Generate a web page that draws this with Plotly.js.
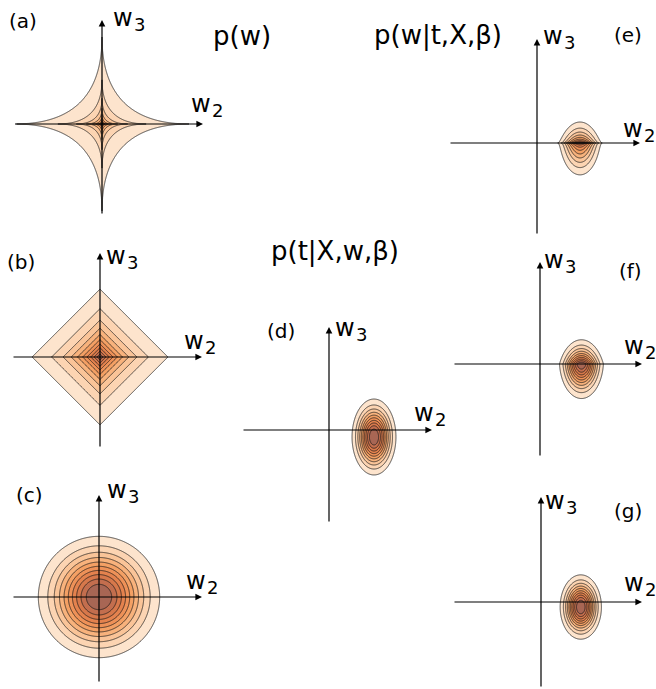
<!DOCTYPE html>
<html>
<head>
<meta charset="utf-8">
<script src="https://cdn.plot.ly/plotly-3.0.1.min.js"></script>
<style>html,body{margin:0;padding:0;background:#fff}</style>
</head>
<body>
<div id="chart" style="width:656px;height:689px"></div>
<script>
// Priors p(w) ∝ exp(-(|w2|/s)^q - (|w3|/s)^q), coordinates in units of 10 px
const priorLetters = ['(a)', '(b)', '(c)'];
const priorExponent = [0.5, 1, 2];
const priorScale = [1.5, 2.82, 3.91];

// Likelihood p(t|X,w,β): axis-aligned Gaussian over (w2, w3)
const likelihoodMean = [4.5, -0.7];
const likelihoodSigma = [1.0, 1.73];

// Posterior panels p(w|t,X,β) = prior × likelihood
const posteriorLetters = ['(e)', '(f)', '(g)'];
const likelihoodLetter = '(d)';

// Contour levels as fractions of each panel's peak
const levelStart = 0.09;
const levelStep = 0.09;
const levelCount = 10;

// Fill colour of each band, lowest (outside) to highest
const bandColors = [
  'rgba(255,255,255,0)',
  'rgb(253,228,205)', 'rgb(252,212,178)', 'rgb(250,196,152)', 'rgb(248,178,124)',
  'rgb(244,160,100)', 'rgb(238,145,88)', 'rgb(228,130,78)', 'rgb(215,120,75)',
  'rgb(195,110,78)', 'rgb(168,102,84)'
];

const titleTexts = ['p(w)', 'p(w|t,X,β)', 'p(t|X,w,β)'];
const axisNames = ['w', '2', '3'];

// ---------------------------------------------------------------------------
const W = 656, H = 689, UNIT = 10;
const FONT = 'DejaVu Sans';

// Panel frames in pixels: origin, horizontal axis extent, vertical axis extent
const frames = {
  '(a)': {o: [102, 124], h: [15, 203], v: [20, 215]},
  '(b)': {o: [100, 357], h: [12, 202], v: [253, 448]},
  '(c)': {o: [99, 597],  h: [12, 202], v: [495, 683]},
  '(d)': {o: [329, 430], h: [242, 432], v: [327, 523]},
  '(e)': {o: [537, 143], h: [449, 640], v: [39, 235]},
  '(f)': {o: [540, 364], h: [453, 642], v: [262, 457]},
  '(g)': {o: [541, 602], h: [453, 642], v: [497, 688]}
};

// Label placements in pixels: [left, baseline] of the "w" for w3 and w2, and the panel letter centre
const labelPos = {
  '(a)': {w3: [112, 27],  w2: [190, 113], tag: [23, 21]},
  '(b)': {w3: [105, 265], w2: [183, 350], tag: [21, 262]},
  '(c)': {w3: [106, 499], w2: [185, 590], tag: [29, 495]},
  '(d)': {w3: [334, 337], w2: [413, 422], tag: [281, 331]},
  '(e)': {w3: [542, 45],  w2: [622, 138], tag: [628, 35]},
  '(f)': {w3: [543, 269], w2: [623, 355], tag: [630, 271]},
  '(g)': {w3: [544, 510], w2: [623, 592], tag: [628, 511]}
};
const titlePos = [[242, 36], [438, 36], [335, 252]];

function logPrior(k, x, y) {
  const s = priorScale[k], q = priorExponent[k];
  return -(Math.pow(Math.abs(x) / s, q) + Math.pow(Math.abs(y) / s, q));
}
function logLikelihood(x, y) {
  const a = (x - likelihoodMean[0]) / likelihoodSigma[0];
  const b = (y - likelihoodMean[1]) / likelihoodSigma[1];
  return -0.5 * (a * a + b * b);
}

function axisRange(f) {
  return {
    x: [(f.h[0] - f.o[0]) / UNIT, (f.h[1] - f.o[0]) / UNIT],
    y: [(f.o[1] - f.v[1]) / UNIT, (f.o[1] - f.v[0]) / UNIT]
  };
}

function gridAxis(lo, hi, step) {
  const out = [];
  for (let k = Math.ceil(lo / step); k <= Math.floor(hi / step); k++) out.push(k * step);
  return out;
}

function densityGrid(f, logDensity) {
  const r = axisRange(f), step = 0.06;
  const xs = gridAxis(r.x[0], r.x[1], step);
  const ys = gridAxis(r.y[0], r.y[1], step);
  const L = ys.map(y => xs.map(x => logDensity(x, y)));
  let m = -Infinity;
  L.forEach(row => row.forEach(v => { if (v > m) m = v; }));
  const z = L.map(row => row.map(v => Math.exp(v - m)));
  return {xs, ys, z};
}

const colorscale = bandColors.map((c, j) => [j / levelCount, c]);

const panels = [];
priorLetters.forEach((id, k) => panels.push({id, fn: (x, y) => logPrior(k, x, y)}));
panels.push({id: likelihoodLetter, fn: logLikelihood});
posteriorLetters.forEach((id, k) => panels.push({id, fn: (x, y) => logPrior(k, x, y) + logLikelihood(x, y)}));

const traces = [];
const layout = {
  width: W, height: H,
  margin: {l: 0, r: 0, t: 0, b: 0},
  paper_bgcolor: '#fff', plot_bgcolor: 'rgba(0,0,0,0)',
  showlegend: false,
  font: {family: FONT, color: '#000'},
  annotations: []
};

function px(x) { return x / W; }
function py(y) { return 1 - y / H; }

function addText(text, x, y, size, xanchor, yanchor) {
  layout.annotations.push({
    text, xref: 'paper', yref: 'paper', x: px(x), y: py(y),
    xanchor, yanchor, showarrow: false, font: {family: FONT, size, color: '#000'}
  });
}

panels.forEach((p, i) => {
  const f = frames[p.id];
  const r = axisRange(f);
  const n = i + 1;
  const xa = n === 1 ? 'x' : 'x' + n, ya = n === 1 ? 'y' : 'y' + n;
  const xKey = n === 1 ? 'xaxis' : 'xaxis' + n, yKey = n === 1 ? 'yaxis' : 'yaxis' + n;
  layout[xKey] = {domain: [px(f.h[0]), px(f.h[1])], range: r.x, visible: false, fixedrange: true, anchor: ya};
  layout[yKey] = {domain: [py(f.v[1]), py(f.v[0])], range: r.y, visible: false, fixedrange: true, anchor: xa};

  const g = densityGrid(f, p.fn);
  traces.push({
    type: 'contour', x: g.xs, y: g.ys, z: g.z, xaxis: xa, yaxis: ya,
    autocontour: false,
    contours: {start: levelStart, end: levelStart + levelStep * (levelCount - 1), size: levelStep, coloring: 'fill', showlines: true},
    line: {color: 'rgba(25,25,25,0.85)', width: 0.9, smoothing: 0},
    colorscale, zmin: 0, zmax: 1, showscale: false, hoverinfo: 'skip'
  });

  // coordinate axes with arrowheads
  const arrow = {xref: xa, yref: ya, axref: xa, ayref: ya, showarrow: true, text: '',
                 arrowhead: 2, arrowsize: 1.1, arrowwidth: 1.2, arrowcolor: '#000'};
  layout.annotations.push(Object.assign({x: r.x[1], y: 0, ax: r.x[0], ay: 0}, arrow));
  layout.annotations.push(Object.assign({x: 0, y: r.y[1], ax: 0, ay: r.y[0]}, arrow));

  // axis labels w3 and w2 with subscripts
  const lp = labelPos[p.id];
  const wSize = 24, dSize = 18;
  [['w3', axisNames[2]], ['w2', axisNames[1]]].forEach(([key, digit]) => {
    const [lx, by] = lp[key];
    addText(axisNames[0], lx - 1, by + 0.236 * wSize + 1, wSize, 'left', 'bottom');
    addText(digit, lx + 20, by + 5 + 0.236 * dSize + 1, dSize, 'left', 'bottom');
  });
  addText(p.id, lp.tag[0], lp.tag[1], 20, 'center', 'middle');
});

titleTexts.forEach((t, i) => addText(t, titlePos[i][0], titlePos[i][1], 26, 'center', 'middle'));

Plotly.newPlot('chart', traces, layout, {staticPlot: true, displayModeBar: false});
</script>
</body>
</html>
